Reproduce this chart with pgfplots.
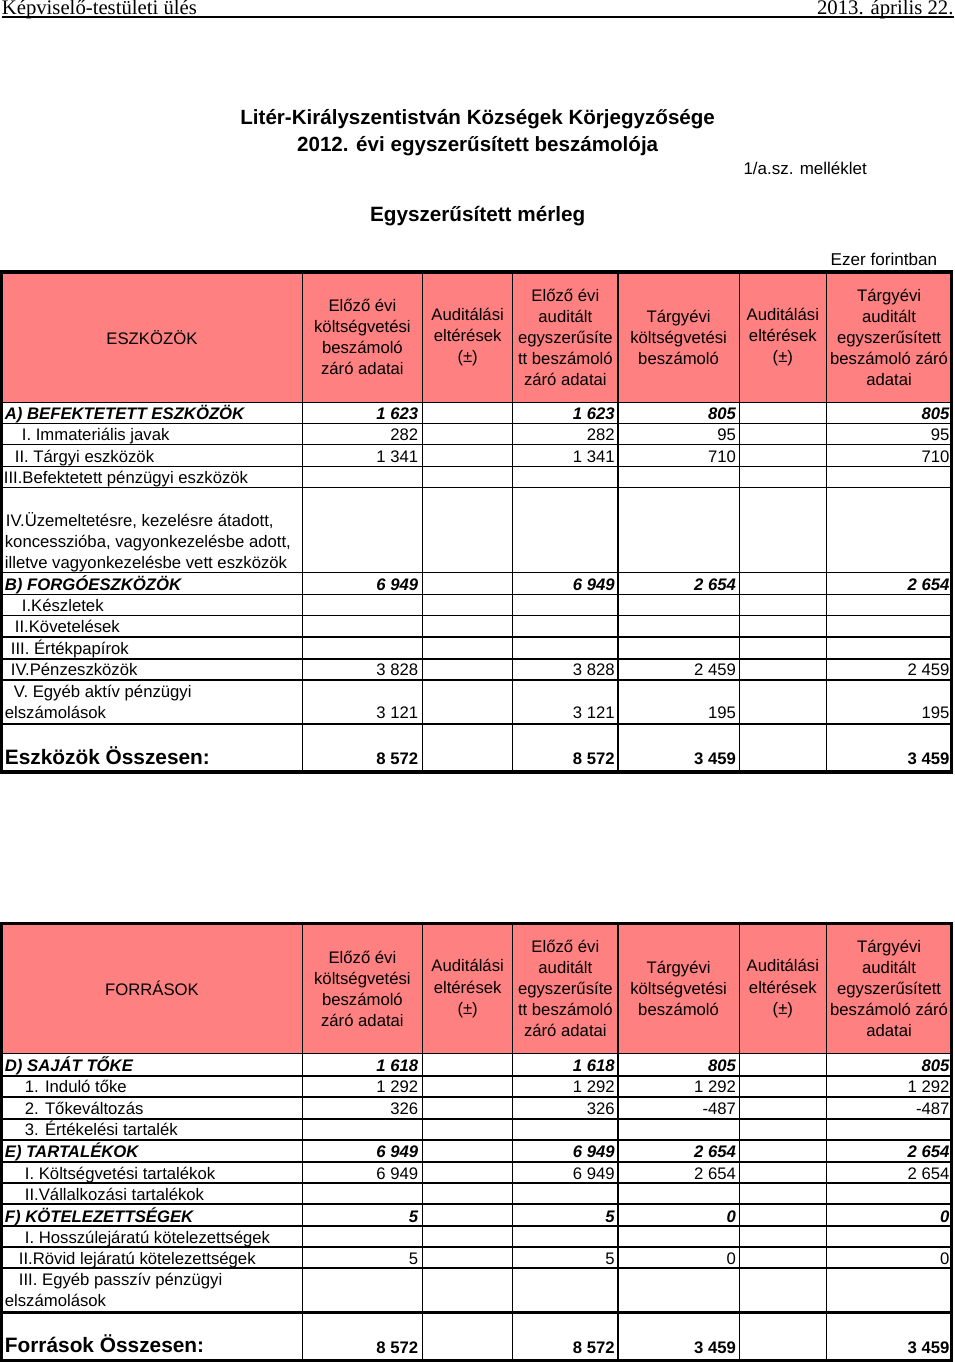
\documentclass[border=0pt]{standalone}
\usepackage{fontspec}
\setmainfont{Liberation Sans}
\newfontfamily\timesf{Liberation Serif}
\usepackage{pgfplots}
\usepackage{pgfplotstable}
\pgfplotsset{compat=1.18}
\definecolor{hdr}{RGB}{255,128,128}

% values: x = right edge of the cell (px), y = baseline (px), v = value (thousand HUF)
\pgfplotstableread{
x y v
421 441 282
617 441 282
738 441 95
951 441 95
421 463 1341
617 463 1341
738 463 710
951 463 710
421 676 3828
617 676 3828
738 676 2459
951 676 2459
421 719 3121
617 719 3121
738 719 195
951 719 195
421 1092 1292
617 1092 1292
738 1092 1292
951 1092 1292
421 1114 326
617 1114 326
738 1114 -487
951 1114 -487
421 1178 6949
617 1178 6949
738 1178 2654
951 1178 2654
421 1263 5
617 1263 5
738 1263 0
951 1263 0
}\tabN

\pgfplotstableread{
x y v
421 420 1623
617 420 1623
738 420 805
951 420 805
421 591 6949
617 591 6949
738 591 2654
951 591 2654
421 1071 1618
617 1071 1618
738 1071 805
951 1071 805
421 1157 6949
617 1157 6949
738 1157 2654
951 1157 2654
421 1221 5
617 1221 5
738 1221 0
951 1221 0
}\tabBI

\pgfplotstableread{
x y v
421 764 8572
617 764 8572
738 764 3459
951 764 3459
421 1352 8572
617 1352 8572
738 1352 3459
951 1352 3459
}\tabB

\newcommand{\tf}{\fontsize{12.5}{15.75}\selectfont}
\tikzset{
  lbl/.style={anchor=base west, inner sep=0pt, font=\tf},
  lblbi/.style={anchor=base west, inner sep=0pt, font=\tf\bfseries\itshape},
  hd/.style={align=center, inner sep=0pt, font=\tf},
}
\newcommand{\hdrtexts}[2]{%
 \node[hd] at (155,#1) {#2};
 \node[hd] at (365,#1) {Előző évi\\költségvetési\\beszámoló\\záró adatai};
 \node[hd] at (470,#1) {Auditálási\\eltérések\\(±)};
 \node[hd] at (567.5,#1) {Előző évi\\auditált\\egyszerűsíte\\tt beszámoló\\záró adatai};
 \node[hd] at (680.5,#1) {Tárgyévi\\költségvetési\\beszámoló};
 \node[hd] at (784.5,#1) {Auditálási\\eltérések\\(±)};
 \node[hd] at (890.5,#1) {Tárgyévi\\auditált\\egyszerűsített\\beszámoló záró\\adatai};
}

\begin{document}
\begin{tikzpicture}
\begin{axis}[
  width=720pt, height=1021.5pt, scale only axis,
  xmin=0, xmax=960, ymin=0, ymax=1362, y dir=reverse,
  hide axis, clip=false,
  nodes near coords align={anchor=base east},
  every node near coord/.append style={inner sep=0pt, text=black},
]
% header fills
\fill[hdr] (5,273) rectangle (953,403);
\fill[hdr] (5,923) rectangle (953,1053);

% data
\addplot[draw=none, mark=none, point meta=explicit,
  nodes near coords={\pgfmathprintnumber[1000 sep={\ },assume math mode=true]{\pgfplotspointmeta}},
  every node near coord/.append style={font=\tf}]
  table[x=x, y=y, meta=v] {\tabN};
\addplot[draw=none, mark=none, point meta=explicit,
  nodes near coords={\pgfmathprintnumber[1000 sep={\ },assume math mode=true]{\pgfplotspointmeta}},
  every node near coord/.append style={font=\tf\bfseries\itshape}]
  table[x=x, y=y, meta=v] {\tabBI};
\addplot[draw=none, mark=none, point meta=explicit,
  nodes near coords={\pgfmathprintnumber[1000 sep={\ },assume math mode=true]{\pgfplotspointmeta}},
  every node near coord/.append style={font=\tf\bfseries}]
  table[x=x, y=y, meta=v] {\tabB};

% page header
\node[anchor=base west, inner sep=0pt, font=\timesf\fontsize{15.5}{17}\selectfont] at (5,16) {Képviselő-testületi ülés};
\node[anchor=base east, inner sep=0pt, font=\timesf\fontsize{15.5}{17}\selectfont] at (955,16) {2013. április 22.};
\draw[line width=1.5pt] (5,18.5) -- (955,18.5);

% titles
\node[inner sep=0pt, font=\fontsize{15.4}{17}\selectfont\bfseries] at (480,120) {Litér-Királyszentistván Községek Körjegyzősége};
\node[inner sep=0pt, font=\fontsize{15.4}{17}\selectfont\bfseries] at (480,147) {2012. évi egyszerűsített beszámolója};
\node[anchor=base west, inner sep=0pt, font=\fontsize{12.7}{14}\selectfont] at (745,176) {1/a.sz. melléklet};
\node[inner sep=0pt, font=\fontsize{15.5}{17}\selectfont\bfseries] at (480,217) {Egyszerűsített mérleg};
\node[anchor=base west, inner sep=0pt, font=\fontsize{12.8}{14}\selectfont] at (832,267) {Ezer forintban};

% header texts
\hdrtexts{338}{ESZKÖZÖK}
\hdrtexts{988}{FORRÁSOK}

% labels table 1
\node[lblbi] at (8,420) {A) BEFEKTETETT ESZKÖZÖK};
\node[lbl] at (25,441) {I. Immateriális javak};
\node[lbl] at (18,463) {II. Tárgyi eszközök};
\node[lbl] at (7,484) {III.Befektetett pénzügyi eszközök};
\node[lbl] at (9,527) {IV.Üzemeltetésre, kezelésre átadott,};
\node[lbl] at (8,548) {koncesszióba, vagyonkezelésbe adott,};
\node[lbl] at (8,569) {illetve vagyonkezelésbe vett eszközök};
\node[lblbi] at (8,591) {B) FORGÓESZKÖZÖK};
\node[lbl] at (25,612) {I.Készletek};
\node[lbl] at (18,633) {II.Követelések};
\node[lbl] at (14,655) {III. Értékpapírok};
\node[lbl] at (14,676) {IV.Pénzeszközök};
\node[lbl] at (17,698) {V. Egyéb aktív pénzügyi};
\node[lbl] at (8,719) {elszámolások};
\node[anchor=base west, inner sep=0pt, font=\fontsize{15.6}{18}\selectfont\bfseries] at (8,764) {Eszközök Összesen:};

% labels table 2
\node[lblbi] at (8,1071) {D) SAJÁT TŐKE};
\node[lbl] at (28,1092) {1. Induló tőke};
\node[lbl] at (28,1114) {2. Tőkeváltozás};
\node[lbl] at (28,1135) {3. Értékelési tartalék};
\node[lblbi] at (8,1157) {E) TARTALÉKOK};
\node[lbl] at (28,1178) {I. Költségvetési tartalékok};
\node[lbl] at (28,1199) {II.Vállalkozási tartalékok};
\node[lblbi] at (8,1221) {F) KÖTELEZETTSÉGEK};
\node[lbl] at (28,1242) {I. Hosszúlejáratú kötelezettségek};
\node[lbl] at (22,1263) {II.Rövid lejáratú kötelezettségek};
\node[lbl] at (22,1284) {III. Egyéb passzív pénzügyi};
\node[lbl] at (8,1305) {elszámolások};
\node[anchor=base west, inner sep=0pt, font=\fontsize{15.6}{18}\selectfont\bfseries] at (8,1351) {Források Összesen:};

% grid table 1
\draw[line width=1.1pt] (5,403)--(953,403) (5,424)--(953,424) (5,445)--(953,445)
  (5,467)--(953,467) (5,488)--(953,488) (5,573)--(953,573) (5,595)--(953,595)
  (5,616)--(953,616) (5,637)--(953,637) (5,659)--(953,659) (5,680)--(953,680);
\draw[line width=1.1pt] (305,273)--(305,772) (425,273)--(425,772) (515,273)--(515,772)
  (741,273)--(741,772) (828,273)--(828,772);
\draw[line width=2.2pt] (620,273)--(620,772) (5,724)--(953,724);
\draw[line width=2.4pt] (5,273) rectangle (953,772);

% grid table 2
\draw[line width=1.1pt] (5,1053)--(953,1053) (5,1075)--(953,1075) (5,1096)--(953,1096)
  (5,1118)--(953,1118) (5,1139)--(953,1139) (5,1161)--(953,1161) (5,1182)--(953,1182)
  (5,1203)--(953,1203) (5,1225)--(953,1225) (5,1246)--(953,1246) (5,1267)--(953,1267);
\draw[line width=1.1pt] (305,923)--(305,1359) (425,923)--(425,1359) (515,923)--(515,1359)
  (741,923)--(741,1359) (828,923)--(828,1359);
\draw[line width=2.2pt] (620,923)--(620,1359) (5,1311)--(953,1311);
\draw[line width=2.4pt] (5,923) rectangle (953,1359);
\end{axis}
\end{tikzpicture}
\end{document}
